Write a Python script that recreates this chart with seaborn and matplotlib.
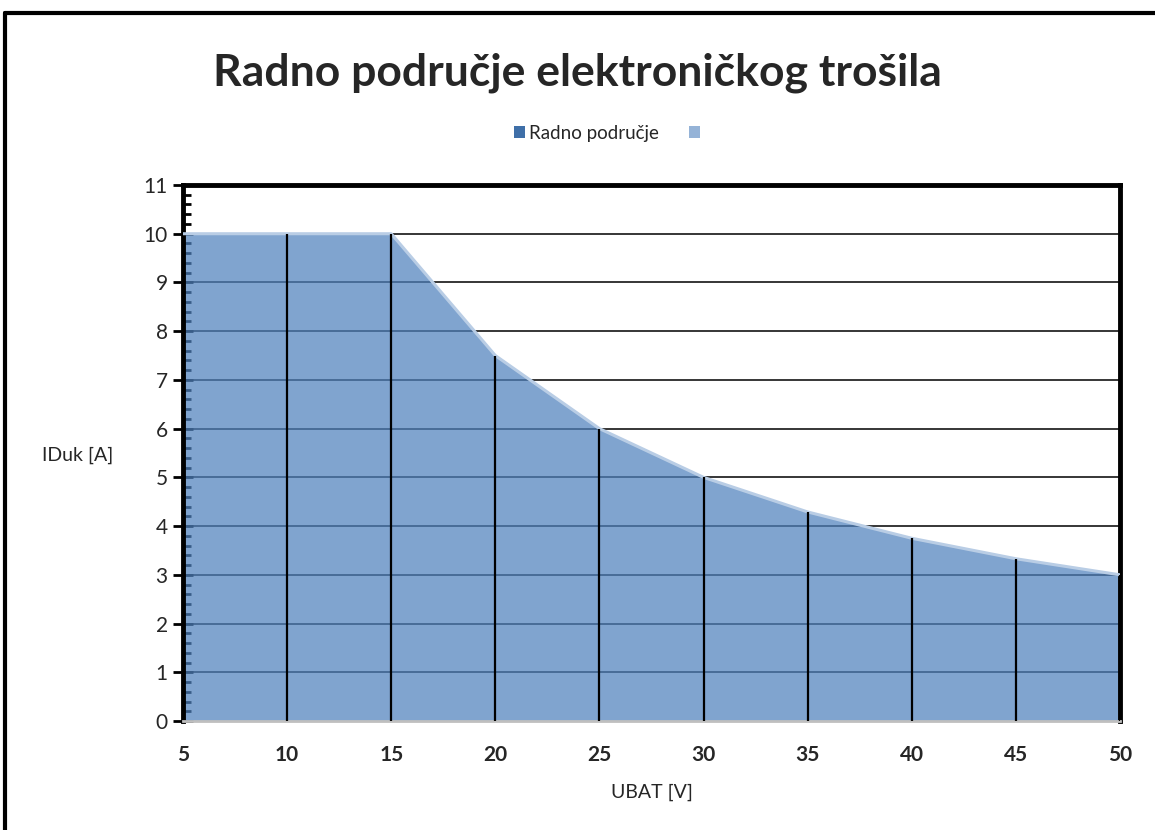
import matplotlib
matplotlib.use("Agg")
import matplotlib.pyplot as plt
import seaborn as sns
import pandas as pd
from matplotlib.patches import Patch
from matplotlib.lines import Line2D
from matplotlib.ticker import MultipleLocator

# data
ubat = [5, 10, 15, 20, 25, 30, 35, 40, 45, 50]
iduk = [10, 10, 10, 7.5, 6, 5, 4.29, 3.75, 3.33, 3.0]
x_ticks = [5, 10, 15, 20, 25, 30, 35, 40, 45, 50]
y_ticks = list(range(0, 12))

df = pd.DataFrame({"UBAT": ubat, "IDuk": iduk})

sns.set_style("white")
plt.rcParams["font.family"] = ["Lato", "DejaVu Sans"]

fig = plt.figure(figsize=(11.55, 8.3), dpi=100)
ax = fig.add_axes([183 / 1155, 1 - 721 / 830, (1120 - 183) / 1155, (721 - 185) / 830])

# horizontal gridlines under the area
ax.hlines(y_ticks[1:-1], 5, 50, color="black", lw=1.1, zorder=1)

ax.fill_between(df["UBAT"], 0, df["IDuk"], color="#4F81BD", alpha=0.72, lw=0, zorder=2)
sns.lineplot(data=df, x="UBAT", y="IDuk", color="#B9CDE5", lw=2.2, ax=ax, zorder=3)

# drop lines
ax.vlines(df["UBAT"][1:], 0, df["IDuk"][1:], color="black", lw=1.6, zorder=4)

ax.set_xlim(5, 50)
ax.set_ylim(0, 11)
ax.set_xticks(x_ticks)
ax.set_yticks(y_ticks)
ax.xaxis.set_minor_locator(MultipleLocator(2.5))
ax.yaxis.set_minor_locator(MultipleLocator(0.2))

ax.tick_params(axis="x", which="major", direction="out", length=5, width=1.5,
               color="#BFBFBF", labelsize=15, pad=12)
ax.tick_params(axis="x", which="minor", direction="out", length=4, width=1.5, color="#BFBFBF")
ax.tick_params(axis="y", which="major", direction="inout", length=14, width=2,
               color="black", labelsize=15, pad=4, left=True)
ax.tick_params(axis="y", which="minor", direction="in", length=6, width=2, color="black", left=True)
for lab in ax.get_xticklabels():
    lab.set_fontweight("bold")

for side in ["top", "left", "right"]:
    ax.spines[side].set_color("black")
    ax.spines[side].set_linewidth(3.5)
ax.spines["bottom"].set_color("#BFBFBF")
ax.spines["bottom"].set_linewidth(2)

ax.set_xlabel("UBAT [V]", fontsize=14, labelpad=14)
ax.set_ylabel("IDuk [A]", fontsize=14, rotation=0, labelpad=0)
ax.yaxis.set_label_coords(-0.112, 0.48)

fig.text(0.5, 0.912, "Radno područje elektroničkog trošila", ha="center", va="center",
         fontsize=32, fontweight="bold")

handles = [Patch(facecolor="#3F6FA8", edgecolor="none"),
           Patch(facecolor="#95B3D7", edgecolor="none")]
fig.legend(handles, ["Radno područje", ""], loc="center", bbox_to_anchor=(0.527, 1 - 133 / 830),
           ncol=2, frameon=False, fontsize=13.5, handlelength=0.6, handleheight=0.6,
           handletextpad=0.2, columnspacing=1.6)

# outer chart frame
fig.add_artist(Line2D([5 / 1155, 5 / 1155], [0, 1 - 13 / 830], transform=fig.transFigure,
                      color="black", lw=3))
fig.add_artist(Line2D([5 / 1155, 1], [1 - 13 / 830, 1 - 13 / 830], transform=fig.transFigure,
                      color="black", lw=3))

fig.savefig("out.png", dpi=100)
